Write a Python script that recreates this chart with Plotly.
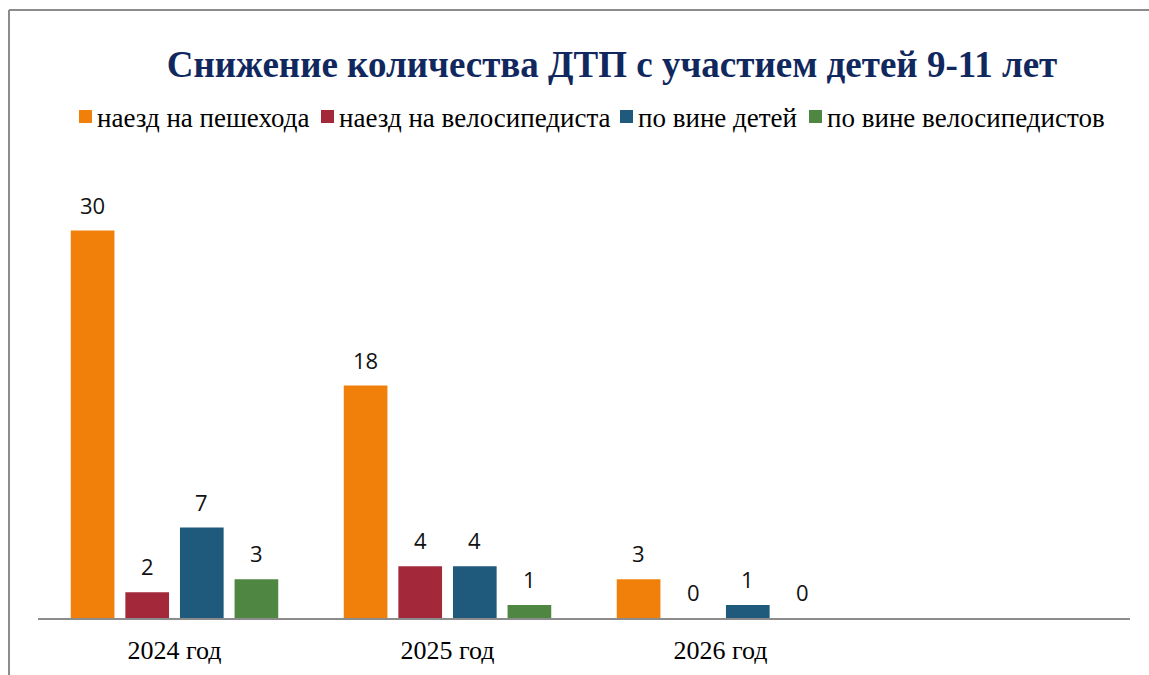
import plotly.graph_objects as go

categories = ["2024 год", "2025 год", "2026 год"]
series_names = ["наезд на пешехода", "наезд на велосипедиста", "по вине детей", "по вине велосипедистов"]
pedestrian = [30, 18, 3]
cyclist_hit = [2, 4, 0]
children_fault = [7, 4, 1]
cyclist_fault = [3, 1, 0]
series_values = [pedestrian, cyclist_hit, children_fault, cyclist_fault]
colors = ["#F0800A", "#A2283A", "#1F5A7D", "#4F8742"]

W, H = 1149, 675
ml, mr, mt, mb = 38, 19, 166, 57
plot_w = W - ml - mr
plot_h = H - mt - mb


def px_x(p):
    return (p - ml) / plot_w


def px_y(p):
    return (H - mb - p) / plot_h


fig = go.Figure()
for name, vals, col in zip(series_names, series_values, colors):
    fig.add_trace(go.Bar(x=categories, y=vals, name=name, marker_color=col,
                         marker_line_width=0, showlegend=False))

bargap, groupgap = 0.2, 0.2
slot = (1 - bargap) / len(series_values)
for j, vals in enumerate(series_values):
    for i, v in enumerate(vals):
        fig.add_annotation(x=i + (j - (len(series_values) - 1) / 2) * slot, y=v,
                           xref="x", yref="y", text=str(v), showarrow=False,
                           yshift=26, yanchor="middle",
                           font=dict(family="Open Sans, Liberation Sans", size=22, color="#111"))

# legend (custom, to match the compact reference layout)
legend_x = [79, 321, 620, 809]
for name, col, lx in zip(series_names, colors, legend_x):
    fig.add_shape(type="rect", xref="paper", yref="paper",
                  x0=px_x(lx), x1=px_x(lx + 13), y0=px_y(123), y1=px_y(110),
                  fillcolor=col, line_width=0)
    fig.add_annotation(xref="paper", yref="paper", x=px_x(lx + 16), y=px_y(118),
                       xanchor="left", yanchor="middle", text=name, showarrow=False,
                       font=dict(family="Liberation Serif, Times New Roman, serif", size=27, color="#000"))

# outer frame (top and left edges only are visible)
frame = dict(color="#8C8C8C", width=2)
fig.add_shape(type="line", xref="paper", yref="paper",
              x0=px_x(9), x1=px_x(W + 10), y0=px_y(10), y1=px_y(10), line=frame, layer="below")
fig.add_shape(type="line", xref="paper", yref="paper",
              x0=px_x(9), x1=px_x(9), y0=px_y(10), y1=px_y(H + 10), line=frame, layer="below")

fig.update_layout(
    width=W, height=H,
    margin=dict(l=ml, r=mr, t=mt, b=mb, autoexpand=False),
    paper_bgcolor="white", plot_bgcolor="white",
    barmode="group", bargap=bargap, bargroupgap=groupgap,
    title=dict(text="<b>Снижение количества ДТП с участием детей 9-11 лет</b>",
               x=612 / W, xanchor="center", y=1 - 64 / H, yanchor="middle",
               font=dict(family="Liberation Serif, Times New Roman, serif", size=37, color="#10285E")),
    xaxis=dict(type="category", range=[-0.5, 3.5], showgrid=False, showline=True,
               linecolor="#8C8C8C", linewidth=2, ticks="", ticklabelstandoff=8,
               automargin=False,
               tickfont=dict(family="Liberation Serif, Times New Roman, serif", size=26, color="#000")),
    yaxis=dict(range=[0, 35], showgrid=False, showticklabels=False, zeroline=False,
               showline=False, automargin=False),
    showlegend=False,
)

fig.write_html("out.html", config={"displayModeBar": False},
               post_script="document.body.style.margin='0';document.body.style.overflow='hidden';")
